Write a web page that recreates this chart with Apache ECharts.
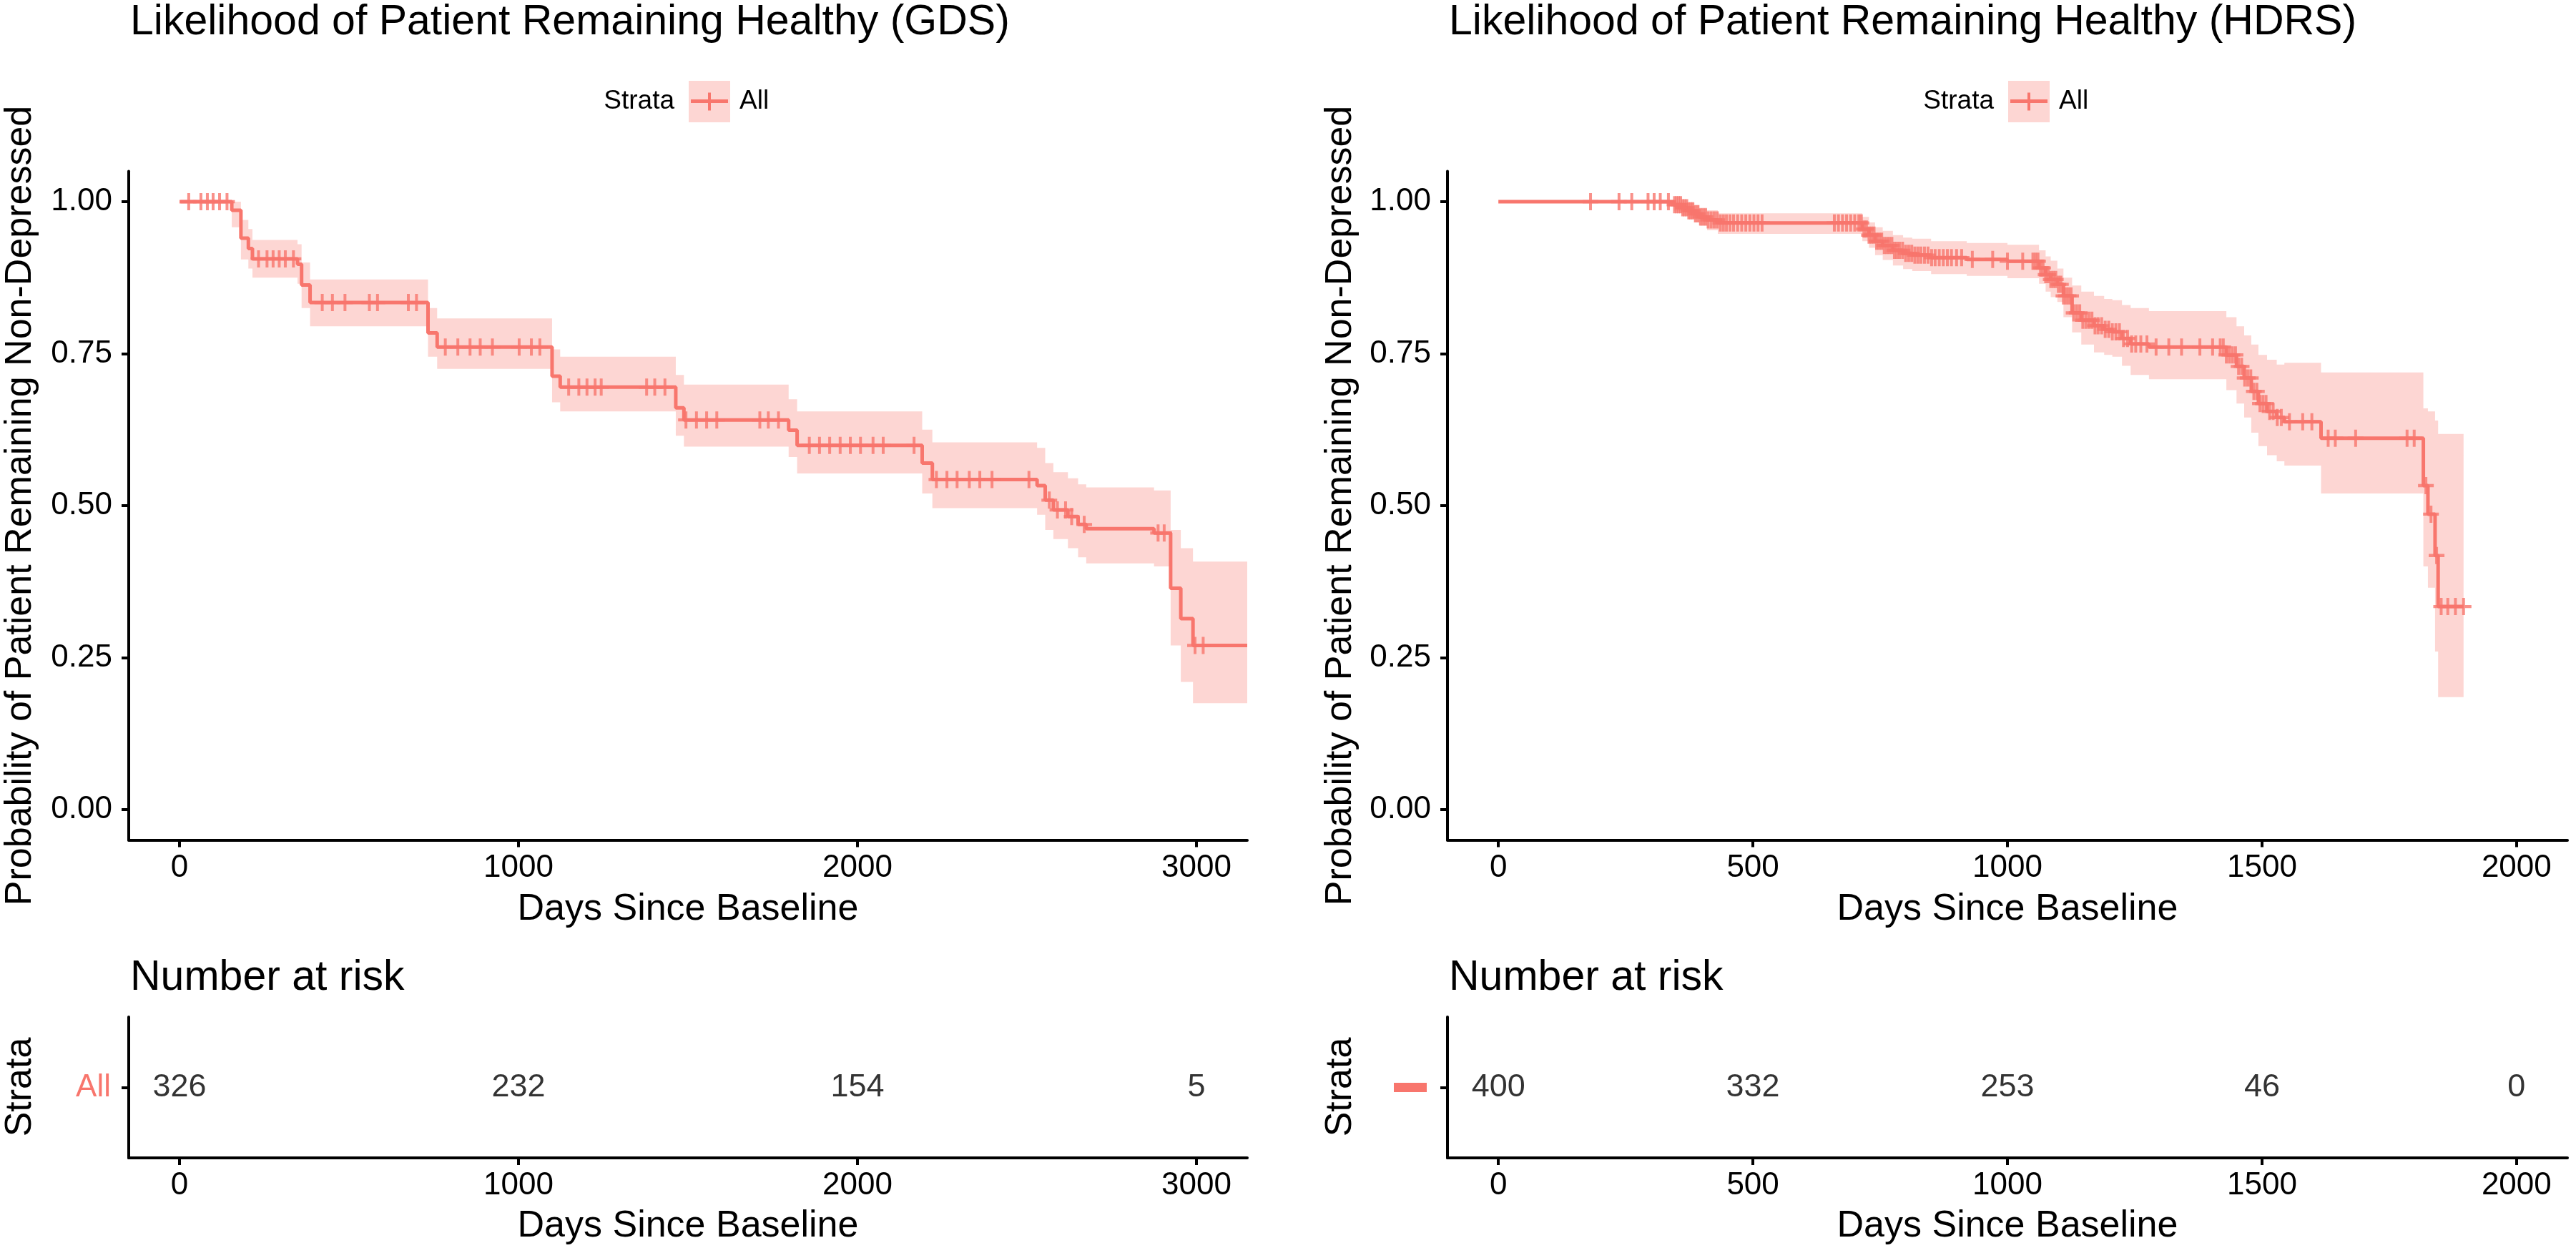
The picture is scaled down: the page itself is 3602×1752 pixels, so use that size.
<!DOCTYPE html>
<html><head><meta charset="utf-8">
<script src="https://cdn.jsdelivr.net/npm/echarts@6/dist/echarts.min.js"></script>
<style>html,body{margin:0;padding:0;background:#fff}#c{width:3602px;height:1752px}</style>
</head><body><div id="c"></div>
<script>
// ---------- GDS (left) ----------
const gdsTime  = [0, 154, 181, 203, 215, 348, 360, 385, 733, 760, 1099, 1123, 1464, 1488, 1797, 1822, 2191, 2221, 2530, 2554, 2578, 2621, 2651, 2675, 2875, 2924, 2954, 2990, 3150];
const gdsSurv  = [1, .986, .94, .923, .906, .897, .863, .834, .784, .761, .713, .695, .661, .641, .624, .599, .570, .543, .533, .509, .493, .482, .469, .462, .455, .364, .314, .270, .270];
const gdsLower = [1, .958, .905, .89, .875, .865, .825, .795, .745, .725, .67, .655, .615, .597, .58, .553, .52, .496, .485, .46, .445, .43, .415, .405, .40, .27, .21, .175, .175];
const gdsUpper = [1, 1, .97, .955, .937, .93, .90, .872, .825, .808, .757, .745, .715, .699, .675, .655, .625, .604, .595, .57, .555, .545, .535, .530, .525, .46, .43, .408, .408];
const gdsCensor = [27, 63, 82, 99, 118, 140, 233, 258, 276, 294, 312, 336, 421, 451, 488, 560, 584, 675, 699, 784, 821, 857, 887, 923, 1002, 1038, 1063, 1148, 1178, 1202, 1226, 1244, 1378, 1402, 1432, 1494, 1525, 1555, 1585, 1712, 1737, 1767, 1858, 1888, 1918, 1949, 1979, 2009, 2046, 2076, 2167, 2233, 2264, 2294, 2330, 2361, 2397, 2506, 2566, 2590, 2614, 2632, 2669, 2887, 2905, 2996, 3020];
const gdsTicks = [0, 1000, 2000, 3000];
const gdsRiskTimes = [0, 1000, 2000, 3000];
const gdsRisk = [326, 232, 154, 5];

// ---------- HDRS (right) ----------
const hdrsTime  = [0, 345, 360, 372, 385, 395, 410, 431, 715, 728, 740, 755, 775, 795, 813, 850, 920, 1000, 1062, 1075, 1085, 1098, 1110, 1127, 1145, 1170, 1190, 1206, 1225, 1242, 1278, 1430, 1450, 1465, 1479, 1493, 1510, 1529, 1544, 1616, 1817, 1826, 1840, 1846, 1896];
const hdrsSurv  = [1, .995, .99, .985, .98, .975, .97, .965, .955, .945, .935, .928, .92, .915, .912, .908, .905, .902, .891, .88, .872, .864, .845, .817, .805, .796, .79, .786, .775, .766, .761, .748, .729, .71, .688, .668, .655, .645, .638, .611, .533, .486, .418, .334, .334];
const hdrsLower = [1, .985, .978, .972, .966, .96, .953, .947, .935, .924, .912, .904, .895, .889, .886, .881, .878, .874, .865, .852, .843, .835, .81, .785, .765, .752, .748, .745, .73, .715, .708, .69, .668, .645, .62, .598, .583, .573, .566, .52, .40, .365, .26, .185, .185];
const hdrsUpper = [1, 1, 1, .998, .995, .99, .986, .981, .975, .966, .958, .952, .945, .941, .939, .935, .932, .929, .92, .91, .903, .89, .875, .862, .852, .845, .84, .838, .83, .825, .82, .81, .795, .78, .765, .748, .74, .732, .735, .719, .66, .655, .64, .618, .618];
const hdrsCensor = [181, 237, 262, 294, 306, 318, 334, 346,
  350, 354, 358, 362, 366, 370, 374, 378, 382, 387, 392, 397, 402, 407, 412, 418, 424, 430,
  436, 442, 448, 455, 462, 470, 478, 486, 494, 502, 510, 518,
  660, 668, 676, 684, 692, 700,
  708, 713, 718, 723, 728, 733, 738, 743, 748, 753, 758, 763, 768, 773, 778, 783, 788, 794, 800, 806, 812, 818, 824, 830, 837, 844, 851, 858, 866, 874, 882, 890, 900, 910,
  931, 971, 1000, 1030,
  1050, 1055, 1060, 1065, 1070, 1075, 1080, 1085, 1090, 1095, 1100, 1105, 1110, 1115, 1120, 1125, 1130, 1136, 1142, 1148, 1154, 1160, 1166, 1172, 1178, 1185, 1192, 1199, 1206, 1213, 1220, 1228, 1236, 1244, 1252, 1262, 1274,
  1292, 1317, 1342, 1378, 1403,
  1418, 1424, 1430, 1436, 1442, 1448, 1454, 1460, 1466, 1472, 1478, 1484, 1490, 1496, 1502, 1508, 1515, 1522, 1530, 1538,
  1554, 1580, 1598, 1630, 1644, 1684, 1785, 1799, 1822, 1832, 1843, 1852, 1865, 1880, 1896];
const hdrsTicks = [0, 500, 1000, 1500, 2000];
const hdrsRiskTimes = [0, 500, 1000, 1500, 2000];
const hdrsRisk = [400, 332, 253, 46, 0];

const yTicks = [0, 0.25, 0.5, 0.75, 1];
const strata = ['All'];

// ---------- styling ----------
const RED = '#F8766D';
const BAND = 'rgba(248,118,109,0.3)';
const FONT = '"Liberation Sans", Arial, Helvetica, sans-serif';

function stepAt(times, vals, t) {
  let v = vals[0];
  for (let i = 0; i < times.length; i++) { if (times[i] <= t) v = vals[i]; else break; }
  return v;
}

const legendSvg = "<svg xmlns='http://www.w3.org/2000/svg' width='58' height='58' viewBox='0 0 58 58'><rect width='58' height='58' fill='#FDD6D3'/><rect x='3' y='26' width='52' height='5' fill='#F8766D'/><rect x='27' y='16.5' width='4' height='25' fill='#F8766D'/></svg>";
const legendIcon = 'image://data:image/svg+xml;charset=utf-8,' + encodeURIComponent(legendSvg);
const plusPath = 'path://M9 0H13V9H22V13H13V22H9V13H0V9H9Z';

const axisLineStyle = { show: true, onZero: false, lineStyle: { color: '#000', width: 4 } };

function xAxisDef(grid, min, max, ticks) {
  return {
    type: 'value', gridIndex: grid, min: min, max: max,
    axisLine: axisLineStyle,
    axisTick: { show: true, length: 10, lineStyle: { color: '#000', width: 4 }, customValues: ticks },
    axisLabel: { customValues: ticks, margin: 17, fontSize: 44, fontFamily: FONT, color: '#000',
      formatter: v => String(v) },
    splitLine: { show: false }
  };
}
function yValDef(grid) {
  return {
    type: 'value', gridIndex: grid, min: -0.05, max: 1.05,
    axisLine: axisLineStyle,
    axisTick: { show: true, length: 10, lineStyle: { color: '#000', width: 4 }, customValues: yTicks },
    axisLabel: { customValues: yTicks, margin: 23, fontSize: 44, fontFamily: FONT, color: '#000',
      formatter: v => v.toFixed(2) },
    splitLine: { show: false }
  };
}

function bandSeries(xi, times, lower, upper, key) {
  return {
    name: 'band_' + key, type: 'custom', xAxisIndex: xi, yAxisIndex: xi, silent: true, z: 1, clip: true,
    data: times.map((t, i) => [t, lower[i], upper[i]]),
    encode: { x: 0, y: [1, 2] },
    renderItem: function (params, api) {
      if (params.dataIndex !== 0) return null;
      const n = times.length, pts = [];
      for (let i = 0; i < n; i++) {
        pts.push(api.coord([times[i], upper[i]]));
        if (i < n - 1) pts.push(api.coord([times[i + 1], upper[i]]));
      }
      for (let i = n - 1; i >= 0; i--) {
        if (i < n - 1) pts.push(api.coord([times[i + 1], lower[i]]));
        pts.push(api.coord([times[i], lower[i]]));
      }
      return { type: 'polygon', shape: { points: pts }, style: { fill: BAND } };
    }
  };
}

function kmSeries(xi, times, surv, lower, upper, censor, key) {
  return [
    bandSeries(xi, times, lower, upper, key),
    { name: 'All', type: 'line', xAxisIndex: xi, yAxisIndex: xi, step: 'end',
      data: times.map((t, i) => [t, surv[i]]), symbol: 'none', lineStyle: { color: RED, width: 5 },
      itemStyle: { color: RED }, silent: true, z: 3 },
    { name: 'censor_' + key, type: 'scatter', xAxisIndex: xi, yAxisIndex: xi,
      data: censor.map(t => [t, stepAt(times, surv, t)]), symbol: plusPath, symbolSize: [22, 24],
      itemStyle: { color: RED }, silent: true, z: 4 }
  ];
}

function riskSeries(xi, times, risk) {
  return {
    name: 'risk_' + xi, type: 'scatter', xAxisIndex: xi, yAxisIndex: xi,
    data: times.map(t => [t, strata[0]]), symbolSize: 1, itemStyle: { color: 'rgba(0,0,0,0)' },
    label: { show: true, position: 'inside', formatter: p => String(risk[p.dataIndex]),
      fontSize: 45, fontFamily: FONT, color: '#000' }, silent: true
  };
}

function txt(text, x, y, size, opt) {
  opt = opt || {};
  return { type: 'text', x: x, y: y, rotation: opt.rot || 0, silent: true,
    style: { text: text, fontSize: size, fontFamily: FONT, fill: opt.fill || '#000',
      align: opt.align || 'center', verticalAlign: 'middle' } };
}

const option = {
  animation: false,
  backgroundColor: '#fff',
  grid: [
    { left: 180, top: 239.5, width: 1564, height: 935 },
    { left: 2024, top: 239.5, width: 1566, height: 935 },
    { left: 180, top: 1422, width: 1564, height: 197 },
    { left: 2024, top: 1422, width: 1566, height: 197 }
  ],
  xAxis: [
    xAxisDef(0, -150, 3150, gdsTicks),
    xAxisDef(1, -100, 2100, hdrsTicks),
    xAxisDef(2, -150, 3150, gdsTicks),
    xAxisDef(3, -100, 2100, hdrsTicks)
  ],
  yAxis: [
    yValDef(0),
    yValDef(1),
    { type: 'category', gridIndex: 2, data: strata,
      axisLine: axisLineStyle,
      axisTick: { show: true, alignWithLabel: true, length: 10, lineStyle: { color: '#000', width: 4 } },
      axisLabel: { margin: 25, fontSize: 44, fontFamily: FONT, color: RED } },
    { type: 'category', gridIndex: 3, data: strata,
      axisLine: axisLineStyle,
      axisTick: { show: true, alignWithLabel: true, length: 10, lineStyle: { color: '#000', width: 4 } },
      axisLabel: { margin: 29, formatter: () => '{b|}',
        rich: { b: { backgroundColor: RED, width: 46, height: 13 } } } }
  ],
  legend: [
    { left: 963, top: 113, padding: 0, itemWidth: 58, itemHeight: 58, selectedMode: false,
      data: [{ name: 'All', icon: legendIcon }],
      textStyle: { fontSize: 37, fontFamily: FONT, color: '#000', padding: [0, 0, 0, 8] } },
    { left: 2808, top: 113, padding: 0, itemWidth: 58, itemHeight: 58, selectedMode: false,
      data: [{ name: 'All', icon: legendIcon }],
      textStyle: { fontSize: 37, fontFamily: FONT, color: '#000', padding: [0, 0, 0, 8] } }
  ],
  graphic: [
    txt('Likelihood of Patient Remaining Healthy (GDS)', 182, 32, 59, { align: 'left' }),
    txt('Likelihood of Patient Remaining Healthy (HDRS)', 2026, 32, 59, { align: 'left' }),
    txt('Strata', 943, 142, 37, { align: 'right' }),
    txt('Strata', 2788, 142, 37, { align: 'right' }),
    txt('Probability of Patient Remaining Non-Depressed', 29, 707, 52, { rot: Math.PI / 2 }),
    txt('Probability of Patient Remaining Non-Depressed', 1875, 707, 52, { rot: Math.PI / 2 }),
    txt('Days Since Baseline', 962, 1272, 52),
    txt('Days Since Baseline', 2807, 1272, 52),
    txt('Number at risk', 182, 1368, 59, { align: 'left' }),
    txt('Number at risk', 2026, 1368, 59, { align: 'left' }),
    txt('Strata', 29, 1520, 52, { rot: Math.PI / 2 }),
    txt('Strata', 1875, 1520, 52, { rot: Math.PI / 2 }),
    txt('Days Since Baseline', 962, 1715, 52),
    txt('Days Since Baseline', 2807, 1715, 52)
  ],
  series: [].concat(
    kmSeries(0, gdsTime, gdsSurv, gdsLower, gdsUpper, gdsCensor, 'gds'),
    kmSeries(1, hdrsTime, hdrsSurv, hdrsLower, hdrsUpper, hdrsCensor, 'hdrs'),
    [riskSeries(2, gdsRiskTimes, gdsRisk), riskSeries(3, hdrsRiskTimes, hdrsRisk)]
  )
};

const chart = echarts.init(document.getElementById('c'), null, { renderer: 'canvas' });
chart.setOption(option);
</script>
</body></html>
